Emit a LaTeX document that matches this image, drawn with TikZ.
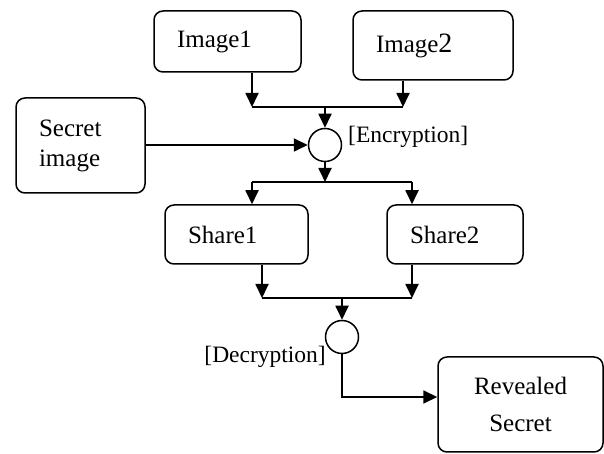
\documentclass[tikz,border=0pt]{standalone}
\usepackage{fontspec}
\setmainfont{Liberation Serif}
\usetikzlibrary{arrows.meta}

\begin{document}
\begin{tikzpicture}[x=1pt,y=1pt]
	\tikzset{box/.style = {draw, rounded corners=9pt, line width=1.5pt,
			inner xsep=23pt, inner ysep=0pt, align=left,
			font=\fontsize{25}{30}\selectfont}}
	\tikzset{junction/.style = {shape=circle, draw, line width=1.5pt,
			inner sep=0pt, minimum size=33pt}}
	\tikzset{tag/.style = {inner sep=0pt, font=\fontsize{23.5}{28}\selectfont}}
	\tikzset{edge/.style = {line width=1.8pt, -{Triangle[width=13pt,length=14pt]}}}
	\tikzset{wire/.style = {line width=1.8pt}}
	\useasboundingbox (0,0) rectangle (604,454);
    % boxes
    \node[box, text width=101pt, minimum height=61pt] (img1) at (227.5,412.5) {Image1};
    \node[box, text width=114pt, minimum height=69pt] (img2) at (433,408.5) {Image{\fontsize{28}{30}\selectfont 2}};
    \node[box, text width=83pt, minimum height=95pt] (secret) at (80.5,308.5) {Secret\\image};
    \node[box, text width=97pt, minimum height=59pt] (share1) at (236.5,219.5) {Share1};
    \node[box, text width=90pt, minimum height=59pt] (share2) at (455,219.5) {Share2};
    \node[box, text width=119pt, minimum height=95pt, align=center] (rev) at (520.5,49.5) {Revealed\\[7pt]Secret};
    % xor points
    \node[junction] (enc) at (325,309) {};
    \node[junction] (dec) at (342,117) {};
    \node[tag, anchor=base west] (enclabel) at (348,311) {[Encryption]};
    \node[tag, anchor=base east] (declabel) at (326,91) {[Decryption]};
    % bends
    \coordinate (t1) at (252,347);
    \coordinate (t2) at (403,347);
    \coordinate (s1) at (252,272);
    \coordinate (s2) at (412,272);
    \coordinate (u1) at (262,156);
    \coordinate (u2) at (412,156);
    \coordinate (c5) at (342,57);
    %edges
	\draw[edge] (img1.south -| t1) -- (t1);
	\draw[edge] (img2.south -| t2) -- (t2);
	\draw[wire] (t1) -- (t2);
	\draw[edge] (t1 -| enc) -- (enc.north);
	\draw[edge] (secret.east |- enc) -- (enc.west);
	\draw[edge] (enc.south) -- (enc |- s1);
	\draw[wire] (s1) -- (s2);
	\draw[edge] (s1) -- (share1.north -| s1);
	\draw[edge] (s2) -- (share2.north -| s2);
	\draw[edge] (share1.south -| u1) -- (u1);
	\draw[edge] (share2.south -| u2) -- (u2);
	\draw[wire] (u1) -- (u2);
	\draw[edge] (u1 -| dec) -- (dec.north);
	\draw[edge] (dec.south) -- (c5) -- (c5 -| rev.west);
\end{tikzpicture}
\end{document}
